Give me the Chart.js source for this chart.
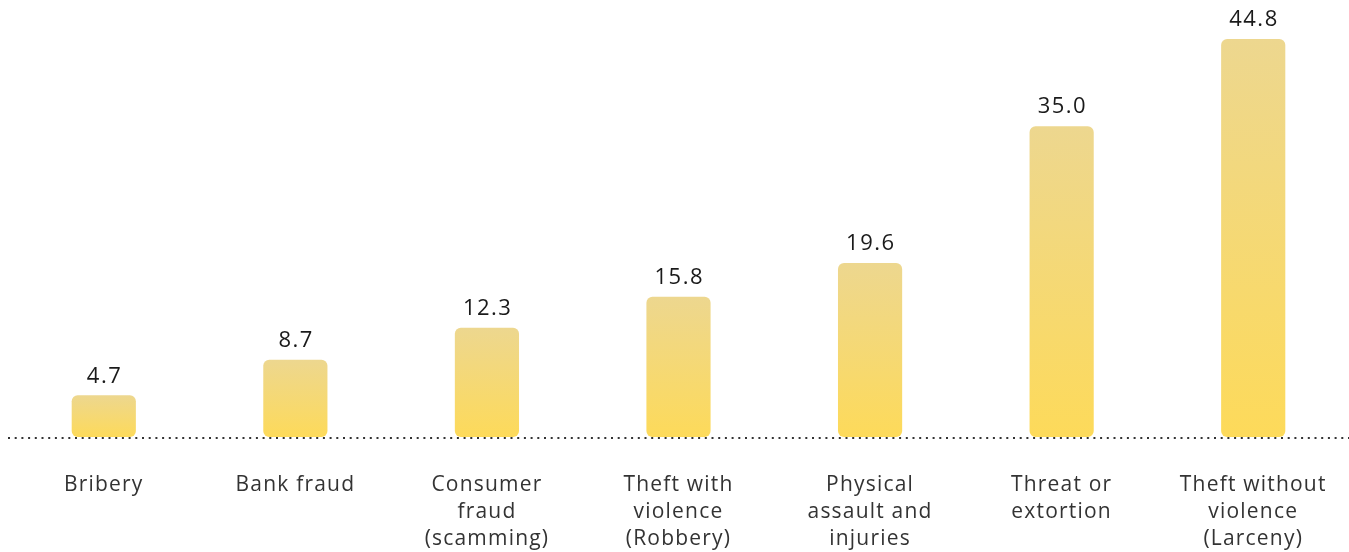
<!DOCTYPE html>
<html>
<head>
<meta charset="utf-8">
<script src="https://cdn.jsdelivr.net/npm/chart.js@4"></script>
<style>
  html, body { margin: 0; padding: 0; background: #fff; }
  #wrap { width: 1349px; height: 552px; }
</style>
</head>
<body>
<div id="wrap"><canvas id="crimeChart"></canvas></div>
<script>
// categories (multi-line labels) and rates
const categories = [
    'Bribery',
    'Bank fraud',
    ['Consumer', 'fraud', '(scamming)'],
    ['Theft with', 'violence', '(Robbery)'],
    ['Physical', 'assault and', 'injuries'],
    ['Threat or', 'extortion'],
    ['Theft without', 'violence', '(Larceny)']
];
const rates = [4.7, 8.7, 12.3, 15.8, 19.6, 35.0, 44.8];

const FONT = '"Open Sans", Lato, sans-serif';

// each bar fades from tan at the top to yellow at the base
function barGradient(ctx) {
    const chart = ctx.chart;
    const y = chart.scales.y;
    if (!y || ctx.type !== 'data') return '#F6D872';
    const top = y.getPixelForValue(ctx.raw);
    const bottom = y.getPixelForValue(0);
    if (!isFinite(top) || !isFinite(bottom) || top === bottom) return '#F6D872';
    const g = chart.ctx.createLinearGradient(0, top, 0, bottom);
    g.addColorStop(0, '#EDD78F');
    g.addColorStop(1, '#FDDA5A');
    return g;
}

// slightly looser tracking for all text
const tracking = {
    id: 'tracking',
    beforeDraw(chart) { chart.ctx.letterSpacing = '1.2px'; }
};

// dotted baseline under the bars
const dottedBase = {
    id: 'dottedBase',
    beforeDatasetsDraw(chart) {
        const ctx = chart.ctx;
        const y0 = chart.scales.y.getPixelForValue(0) + 1;
        ctx.save();
        ctx.strokeStyle = '#333';
        ctx.lineWidth = 2;
        ctx.setLineDash([2, 4.7]);
        ctx.beginPath();
        ctx.moveTo(chart.chartArea.left, y0);
        ctx.lineTo(chart.chartArea.right, y0);
        ctx.stroke();
        ctx.restore();
    }
};

// value above each bar
const valueLabels = {
    id: 'valueLabels',
    afterDatasetsDraw(chart) {
        const ctx = chart.ctx;
        const meta = chart.getDatasetMeta(0);
        ctx.save();
        ctx.font = '22px ' + FONT;
        ctx.letterSpacing = '1.5px';
        ctx.fillStyle = '#1a1a1a';
        ctx.textAlign = 'center';
        ctx.textBaseline = 'bottom';
        meta.data.forEach((bar, i) => {
            ctx.fillText(rates[i].toFixed(1), bar.x + 0.75, bar.y - 8);
        });
        ctx.restore();
    }
};

new Chart(document.getElementById('crimeChart'), {
    type: 'bar',
    data: {
        labels: categories,
        datasets: [{
            data: rates,
            backgroundColor: barGradient,
            borderRadius: 6,
            borderSkipped: false,
            barPercentage: 0.67,
            categoryPercentage: 0.5
        }]
    },
    options: {
        responsive: true,
        maintainAspectRatio: false,
        animation: false,
        layout: { padding: { left: 8, right: 0, top: 0, bottom: 0 } },
        plugins: { legend: { display: false }, tooltip: { enabled: false } },
        scales: {
            x: {
                grid: { display: false, drawTicks: false },
                border: { display: false },
                afterFit(scale) {
                    scale.height = 115;
                    scale.paddingLeft = 0;
                    scale.paddingRight = 0;
                },
                ticks: {
                    color: '#333',
                    padding: 34,
                    maxRotation: 0,
                    autoSkip: false,
                    font: { family: FONT, size: 21, lineHeight: 1.3 }
                }
            },
            y: {
                display: false,
                min: 0,
                max: 49.2
            }
        }
    },
    plugins: [tracking, dottedBase, valueLabels]
});
</script>
</body>
</html>
